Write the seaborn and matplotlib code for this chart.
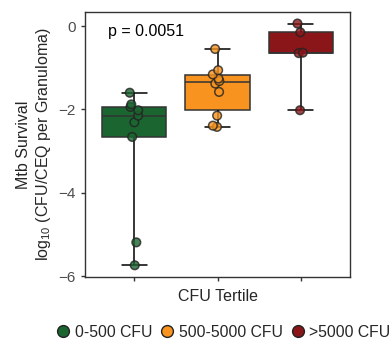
import numpy as np
import pandas as pd
import matplotlib
matplotlib.use("Agg")
import matplotlib.pyplot as plt
from matplotlib.lines import Line2D
import seaborn as sns

# ---- data ----
groups = ["0-500 CFU", "500-5000 CFU", ">5000 CFU"]
low_vals = [-5.74, -5.19, -2.66, -2.31, -2.15, -2.02, -1.94, -1.88, -1.60]
mid_vals = [-2.42, -2.39, -2.15, -1.58, -1.38, -1.32, -1.26, -1.16, -1.06, -0.55]
high_vals = [-2.02, -0.65, -0.64, -0.15, 0.06]
colors = ["#1b6530", "#f7931e", "#8a1619"]
yticks = [-6, -4, -2, 0]
p_text = "p = 0.0051"

df = pd.DataFrame({
    "group": [groups[0]] * len(low_vals) + [groups[1]] * len(mid_vals) + [groups[2]] * len(high_vals),
    "value": low_vals + mid_vals + high_vals,
})
palette = dict(zip(groups, colors))

sns.set_style("white")
plt.rcParams["font.family"] = ["Liberation Sans", "DejaVu Sans"]
plt.rcParams["mathtext.fontset"] = "custom"
plt.rcParams["mathtext.rm"] = "Liberation Sans"
plt.rcParams["mathtext.it"] = "Liberation Sans:italic"

fig = plt.figure(figsize=(3.92, 3.39), dpi=100)
ax = fig.add_axes([0.217, 0.183, 0.676, 0.782])

sns.boxplot(data=df, x="group", y="value", hue="group", palette=palette,
            order=groups, hue_order=groups, legend=False, whis=(0, 100),
            width=0.77, showfliers=False, saturation=1, linecolor="#333333",
            linewidth=1.1, ax=ax,
            whiskerprops=dict(color="black", linewidth=1.1),
            capprops=dict(color="black", linewidth=1.1),
            capwidths=0.3)

np.random.seed(3)
sns.stripplot(data=df, x="group", y="value", hue="group", palette=palette,
              order=groups, hue_order=groups, legend=False, jitter=0.06,
              size=6.2, linewidth=1.1, edgecolor="#222222", alpha=0.8, ax=ax,
              zorder=5)

ax.set_xlim(-0.59, 2.59)
ax.set_ylim(-6.02, 0.34)
ax.set_yticks(yticks)
ax.set_yticklabels([f"{t}".replace("-", "\u2212") for t in yticks])
ax.set_xticks(range(len(groups)))
ax.set_xticklabels([""] * len(groups))
ax.tick_params(axis="both", which="major", length=3, width=1, color="#333333",
               labelsize=11, labelcolor="#4d4d4d", direction="out", bottom=True, left=True)
for s in ax.spines.values():
    s.set_color("#333333")
    s.set_linewidth(1.0)

ax.set_xlabel("CFU Tertile", fontsize=11.5, labelpad=2)
ax.set_ylabel("Mtb Survival\nlog$_{10}$ (CFU/CEQ per Granuloma)", fontsize=11.5, labelpad=4)

ax.text(0.14, -0.14, p_text, ha="center", va="center", fontsize=11.5, color="black")

handles = [Line2D([], [], marker="o", linestyle="", markersize=8.5,
                  markerfacecolor=c, markeredgecolor="#222222", markeredgewidth=1.0)
           for c in colors]
ax.legend(handles, groups, loc="center", bbox_to_anchor=(0.52, -0.208),
          ncol=3, frameon=False, fontsize=11.3, handletextpad=0.25,
          columnspacing=0.45, handlelength=1.0, borderaxespad=0, borderpad=0)

fig.savefig("out.png", dpi=100)
